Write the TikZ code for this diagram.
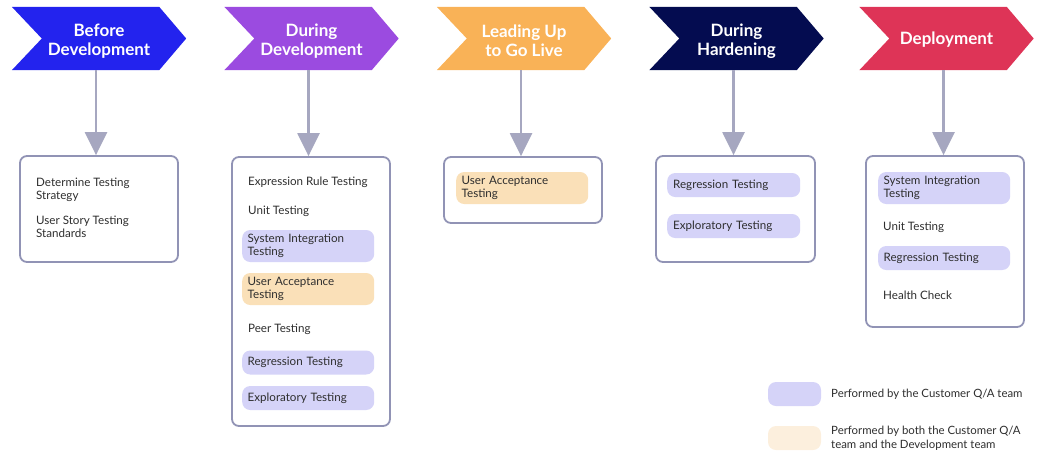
\documentclass[tikz,border=0pt]{standalone}
\usepackage{fontspec}
\setmainfont{Lato}
\usetikzlibrary{arrows.meta,calc,backgrounds}
\definecolor{cBefore}{HTML}{2323EE}
\definecolor{cDuring}{HTML}{9B4BE0}
\definecolor{cLead}{HTML}{F9B257}
\definecolor{cHard}{HTML}{040C50}
\definecolor{cDeploy}{HTML}{DE3457}
\definecolor{cBorder}{HTML}{9193B5}
\definecolor{cArrow}{HTML}{A6A7C0}
\definecolor{cPurple}{HTML}{D5D3F8}
\definecolor{cBeige}{HTML}{FAE0B8}
\definecolor{cBeigeL}{HTML}{FCEFDD}
\definecolor{cText}{HTML}{2E2E2E}
\newcommand{\chevfill}[2]{\fill[#2] (#1.north west) -- ($(#1.north east)+(-27,0)$) -- (#1.east) -- ($(#1.south east)+(-27,0)$) -- (#1.south west) -- ($(#1.west)+(30,0)$) -- cycle;}
\begin{document}
\begin{tikzpicture}[x=1pt,y=-1pt,
  hdr/.style={minimum width=174pt,minimum height=63pt,inner sep=0pt},
  hdrtext/.style={inner sep=0pt,text=white,align=center,font=\bfseries\fontsize{17}{19}\selectfont},
  box/.style={draw=cBorder,line width=1.8pt,rounded corners=7pt,fill=white,inner sep=0pt},
  item/.style={anchor=west,align=left,inner sep=0pt,font=\fontsize{11.6}{13}\selectfont,text=cText,yshift=-0.8pt},
  pill/.style={anchor=west,align=left,fill=cPurple,rounded corners=8pt,minimum width=132pt,text width=121pt,inner xsep=5.5pt,inner ysep=0pt,font=\fontsize{11.6}{13}\selectfont,text=cText},
  pillb/.style={pill,fill=cBeige},
  conn/.style={draw=cArrow,line width=2.4pt,-{Triangle[width=22pt,length=23pt]}},
  swatch/.style={rounded corners=8pt,minimum width=53pt,minimum height=24pt,inner sep=0pt},
  legtext/.style={anchor=west,align=left,inner sep=0pt,font=\fontsize{11.4}{14.5}\selectfont,text=cText}
]
\useasboundingbox (0,0) rectangle (1039,451);
% headers
\node[hdr] (h1) at (99,38.5) {};
\node[hdr] (h2) at (311.5,38.5) {};
\node[hdr] (h3) at (524,38.5) {};
\node[hdr] (h4) at (736.5,38.5) {};
\node[hdr] (h5) at (946.5,38.5) {};
\chevfill{h1}{cBefore}
\chevfill{h2}{cDuring}
\chevfill{h3}{cLead}
\chevfill{h4}{cHard}
\chevfill{h5}{cDeploy}
\node[hdrtext] (t1) at ([yshift=-2.5pt]h1.center) {Before\\Development};
\node[hdrtext] (t2) at ([yshift=-2.5pt]h2.center) {During\\Development};
\node[hdrtext] (t3) at ([yshift=-2.5pt]h3.center) {Leading Up\\to Go Live};
\node[hdrtext] (t4) at ([yshift=-2.5pt]h4.center) {During\\Hardening};
\node[hdrtext] (t5) at ([yshift=-1.2pt]h5.center) {Deployment};
% boxes
\node[box,minimum width=158pt,minimum height=106pt] (b1) at (99,209) {};
\node[box,minimum width=158pt,minimum height=269pt] (b2) at (311,291.5) {};
\node[box,minimum width=158pt,minimum height=66pt] (b3) at (523,190) {};
\node[box,minimum width=159pt,minimum height=106pt] (b4) at (735.5,209) {};
\node[box,minimum width=158pt,minimum height=171pt] (b5) at (945,241.5) {};
% connectors
\draw[conn] ([xshift=-3pt]h1.south) -- ([xshift=-3pt]h1.south |- b1.north);
\draw[conn] ([xshift=-3pt]h2.south) -- ([xshift=-3pt]h2.south |- b2.north);
\draw[conn] ([xshift=-3pt]h3.south) -- ([xshift=-3pt]h3.south |- b3.north);
\draw[conn] ([xshift=-3pt]h4.south) -- ([xshift=-3pt]h4.south |- b4.north);
\draw[conn] ([xshift=-3pt]h5.south) -- ([xshift=-3pt]h5.south |- b5.north);
% box 1
\node[item] (i11) at (36,188.5) {Determine Testing\\Strategy};
\node[item] (i12) at (36,225.5) {User Story Testing\\Standards};
% box 2
\node[item] (i21) at (248,181) {Expression Rule Testing};
\node[item] (i22) at (248,210) {Unit Testing};
\node[pill,minimum height=32pt] (i23) at (242,246) {System Integration\\Testing};
\node[pillb,minimum height=32pt] (i24) at (242,289) {User Acceptance\\Testing};
\node[item] (i25) at (248,328) {Peer Testing};
\node[pill,minimum height=24pt] (i26) at (242,362.5) {Regression Testing};
\node[pill,minimum height=24pt] (i27) at (242,398) {Exploratory Testing};
% box 3
\node[pillb,minimum height=32pt] (i31) at (456,188) {User Acceptance\\Testing};
% box 4
\node[pill,minimum height=24pt,minimum width=133pt] (i41) at (667,185) {Regression Testing};
\node[pill,minimum height=24pt,minimum width=133pt] (i42) at (667,226) {Exploratory Testing};
% box 5
\node[pill,minimum height=32pt] (i51) at (878,188) {System Integration\\Testing};
\node[item] (i52) at (883,226) {Unit Testing};
\node[pill,minimum height=24pt] (i53) at (878,258) {Regression Testing};
\node[item] (i54) at (883,294) {Health Check};
% legend
\node[swatch,fill=cPurple] (s1) at (794.5,394) {};
\node[swatch,fill=cBeigeL] (s2) at (794.5,438) {};
\node[legtext] (l1) at (831,394) {Performed by the Customer Q/A team};
\node[legtext] (l2) at (831,438.5) {Performed by both the Customer Q/A\\team and the Development team};
\end{tikzpicture}
\end{document}
